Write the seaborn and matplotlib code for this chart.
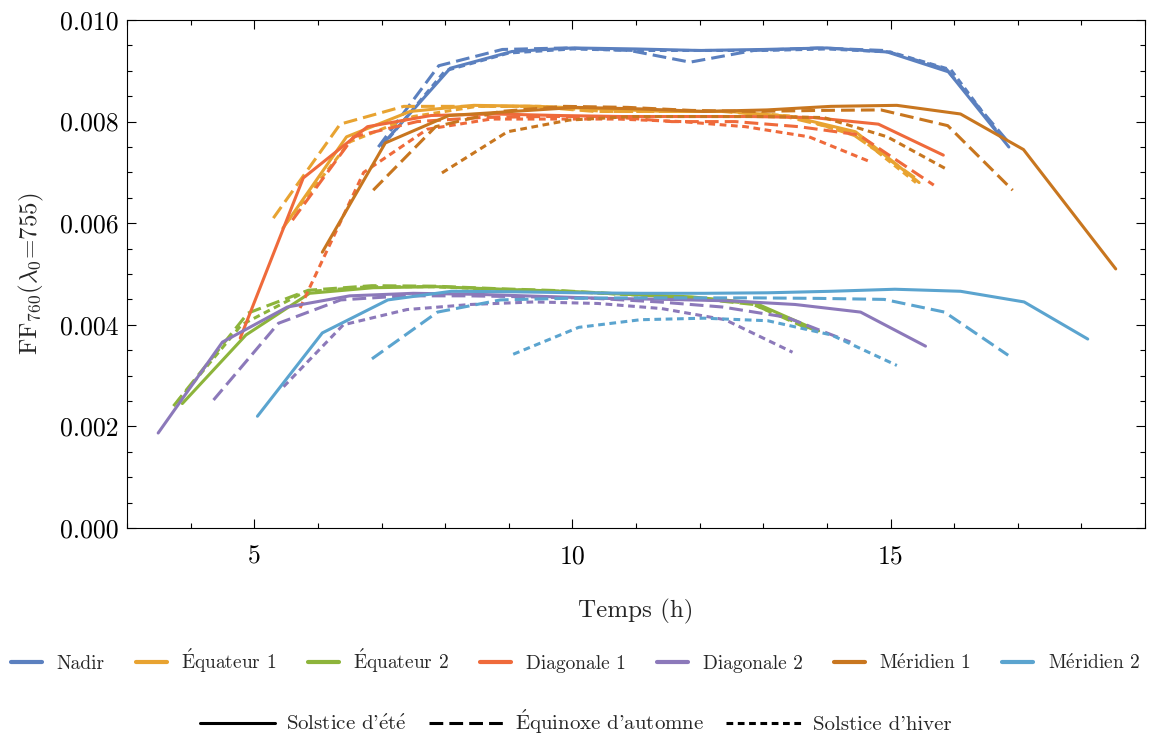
import numpy as np
import pandas as pd
import matplotlib
matplotlib.use("Agg")
import matplotlib.pyplot as plt
from matplotlib.ticker import MultipleLocator, FormatStrFormatter
from matplotlib.lines import Line2D
import seaborn as sns

# ---------------- data ----------------
LOCATIONS = ["Nadir", "Équateur 1", "Équateur 2", "Diagonale 1", "Diagonale 2", "Méridien 1", "Méridien 2"]
SEASONS = ["Solstice d'été", "Équinoxe d'automne", "Solstice d'hiver"]
COLORS = ["#5b80bf", "#e8a331", "#8db43b", "#ef6a3b", "#8c79ba", "#c8761f", "#5ba4cf"]

# Nadir
nadir_ete_t = [7.05, 8.08, 9.05, 10.0, 11.0, 12.0, 13.0, 14.0, 14.95, 15.91, 16.86]
nadir_ete_v = [0.0076, 0.00905, 0.00938, 0.00945, 0.00943, 0.0094, 0.00942, 0.00945, 0.00937, 0.00898, 0.0075]
nadir_aut_t = [6.95, 7.9, 8.9, 9.9, 10.9, 11.85, 12.85, 13.85, 14.9, 15.88, 16.85]
nadir_aut_v = [0.0075, 0.0091, 0.00942, 0.00945, 0.0094, 0.00917, 0.0094, 0.00945, 0.0094, 0.00903, 0.0076]
nadir_hiv_t = [7.0, 8.0, 9.0, 10.0, 11.0, 12.0, 13.0, 14.0, 15.0, 15.95, 16.75]
nadir_hiv_v = [0.0075, 0.0090, 0.00935, 0.00943, 0.0094, 0.0094, 0.0094, 0.00943, 0.00937, 0.00902, 0.00768]

# Équateur 1
equ1_ete_t = [5.45, 6.45, 7.45, 8.45, 9.45, 10.45, 11.45, 12.45, 13.45, 14.45, 15.45]
equ1_ete_v = [0.0059, 0.0077, 0.0082, 0.00832, 0.0083, 0.00825, 0.0082, 0.0082, 0.0081, 0.0078, 0.0068]
equ1_aut_t = [5.3, 6.35, 7.35, 8.35, 9.35, 10.35, 11.35, 12.35, 13.35, 14.35, 15.38]
equ1_aut_v = [0.0061, 0.00795, 0.0083, 0.0083, 0.0083, 0.0082, 0.0082, 0.0082, 0.0081, 0.0078, 0.0069]
equ1_hiv_t = [5.5, 6.5, 7.5, 8.5, 9.5, 10.5, 11.5, 12.5, 13.5, 14.5, 15.4]
equ1_hiv_v = [0.0060, 0.0076, 0.0081, 0.0083, 0.0083, 0.0082, 0.0082, 0.0082, 0.0081, 0.0077, 0.0068]

# Équateur 2
equ2_ete_t = [3.87, 4.87, 5.87, 6.87, 7.87, 8.87, 9.87, 10.87, 11.87, 12.87, 13.87]
equ2_ete_v = [0.00245, 0.0038, 0.00462, 0.00473, 0.00475, 0.0047, 0.00466, 0.0046, 0.00455, 0.00443, 0.00388]
equ2_aut_t = [3.73, 4.9, 5.85, 6.85, 7.85, 8.85, 9.85, 10.85, 11.85, 12.85, 13.75]
equ2_aut_v = [0.0024, 0.00423, 0.00468, 0.00477, 0.00476, 0.00471, 0.00467, 0.0046, 0.00453, 0.0044, 0.0039]
equ2_hiv_t = [3.8, 4.8, 5.8, 6.8, 7.8, 8.8, 9.8, 10.8, 11.8, 12.8, 13.8]
equ2_hiv_v = [0.0025, 0.0040, 0.00465, 0.00475, 0.00475, 0.0047, 0.00466, 0.0046, 0.00454, 0.00442, 0.0039]

# Diagonale 1
dia1_ete_t = [4.78, 5.77, 6.78, 7.78, 8.78, 9.78, 10.78, 11.78, 12.78, 13.78, 14.81, 15.83]
dia1_ete_v = [0.00374, 0.00689, 0.0079, 0.00812, 0.00815, 0.00812, 0.0081, 0.0081, 0.0081, 0.00808, 0.00795, 0.00734]
dia1_aut_t = [5.6, 6.56, 7.56, 8.56, 9.56, 10.56, 11.56, 12.56, 13.56, 14.5, 15.68]
dia1_aut_v = [0.00606, 0.0077, 0.0080, 0.00808, 0.0081, 0.0081, 0.0080, 0.0080, 0.0079, 0.00774, 0.00675]
dia1_hiv_t = [5.72, 6.72, 7.72, 8.72, 9.72, 10.72, 11.72, 12.72, 13.72, 14.7]
dia1_hiv_v = [0.00433, 0.0070, 0.00785, 0.00805, 0.00805, 0.00805, 0.0080, 0.0079, 0.0077, 0.0072]

# Diagonale 2
dia2_ete_t = [3.49, 4.5, 5.52, 6.5, 7.5, 8.5, 9.5, 10.5, 11.5, 12.5, 13.5, 14.53, 15.55]
dia2_ete_v = [0.00187, 0.00366, 0.00435, 0.00457, 0.00462, 0.0046, 0.00456, 0.00452, 0.0045, 0.00447, 0.0044, 0.00425, 0.00358]
dia2_aut_t = [4.36, 5.38, 6.36, 7.36, 8.36, 9.36, 10.36, 11.36, 12.36, 13.36, 14.37]
dia2_aut_v = [0.00252, 0.00403, 0.00449, 0.00457, 0.00457, 0.00455, 0.00452, 0.00445, 0.00435, 0.00415, 0.00366]
dia2_hiv_t = [5.46, 6.4, 7.4, 8.4, 9.4, 10.4, 11.4, 12.4, 13.46]
dia2_hiv_v = [0.00278, 0.0040, 0.0043, 0.0044, 0.00445, 0.00442, 0.00432, 0.0041, 0.00346]

# Méridien 1
mer1_ete_t = [6.07, 7.06, 8.06, 9.06, 10.06, 11.06, 12.06, 13.06, 14.06, 15.1, 16.1, 17.09, 18.54]
mer1_ete_v = [0.00543, 0.00758, 0.00812, 0.0082, 0.00828, 0.00825, 0.0082, 0.00823, 0.0083, 0.00832, 0.00815, 0.00745, 0.0051]
mer1_aut_t = [6.87, 7.85, 8.87, 9.87, 10.87, 11.87, 12.87, 13.87, 14.85, 15.9, 16.92]
mer1_aut_v = [0.00665, 0.0079, 0.0082, 0.0083, 0.00828, 0.00822, 0.0082, 0.00822, 0.00823, 0.00792, 0.00665]
mer1_hiv_t = [7.95, 8.98, 9.95, 10.95, 11.95, 12.95, 13.95, 14.95, 15.9]
mer1_hiv_v = [0.00699, 0.0078, 0.00803, 0.0081, 0.0081, 0.0081, 0.00808, 0.0077, 0.00705]

# Méridien 2
mer2_ete_t = [5.05, 6.07, 7.1, 8.1, 9.07, 10.07, 11.07, 12.07, 13.07, 14.07, 15.07, 16.1, 17.1, 18.1]
mer2_ete_v = [0.0022, 0.00384, 0.00449, 0.00466, 0.00465, 0.00463, 0.00462, 0.00462, 0.00463, 0.00466, 0.0047, 0.00466, 0.00445, 0.00372]
mer2_aut_t = [6.85, 7.88, 8.87, 9.87, 10.87, 11.87, 12.87, 13.87, 14.9, 15.85, 16.85]
mer2_aut_v = [0.00333, 0.00425, 0.00449, 0.00452, 0.00453, 0.00453, 0.00453, 0.00452, 0.0045, 0.00425, 0.0034]
mer2_hiv_t = [9.07, 10.1, 11.07, 12.07, 13.07, 14.07, 15.1]
mer2_hiv_v = [0.00342, 0.00395, 0.0041, 0.00413, 0.00408, 0.0038, 0.0032]

X_TICKS = [5, 10, 15]
X_LABEL = "Temps (h)"
Y_LABEL = r"FF$_{760}$($\lambda_0$=755)"

# Display versions of the labels: accented letters typeset with mathtext (Computer Modern)
LOCATION_LABELS = ["Nadir", r"$\mathrm{\acute{E}}$quateur 1", r"$\mathrm{\acute{E}}$quateur 2",
                   "Diagonale 1", "Diagonale 2", r"M$\mathrm{\acute{e}}$ridien 1", r"M$\mathrm{\acute{e}}$ridien 2"]
SEASON_LABELS = [r"Solstice d'$\mathrm{\acute{e}t\acute{e}}$", r"$\mathrm{\acute{E}}$quinoxe d'automne",
                 "Solstice d'hiver"]

series = {
    ("Nadir", 0): (nadir_ete_t, nadir_ete_v), ("Nadir", 1): (nadir_aut_t, nadir_aut_v), ("Nadir", 2): (nadir_hiv_t, nadir_hiv_v),
    ("Équateur 1", 0): (equ1_ete_t, equ1_ete_v), ("Équateur 1", 1): (equ1_aut_t, equ1_aut_v), ("Équateur 1", 2): (equ1_hiv_t, equ1_hiv_v),
    ("Équateur 2", 0): (equ2_ete_t, equ2_ete_v), ("Équateur 2", 1): (equ2_aut_t, equ2_aut_v), ("Équateur 2", 2): (equ2_hiv_t, equ2_hiv_v),
    ("Diagonale 1", 0): (dia1_ete_t, dia1_ete_v), ("Diagonale 1", 1): (dia1_aut_t, dia1_aut_v), ("Diagonale 1", 2): (dia1_hiv_t, dia1_hiv_v),
    ("Diagonale 2", 0): (dia2_ete_t, dia2_ete_v), ("Diagonale 2", 1): (dia2_aut_t, dia2_aut_v), ("Diagonale 2", 2): (dia2_hiv_t, dia2_hiv_v),
    ("Méridien 1", 0): (mer1_ete_t, mer1_ete_v), ("Méridien 1", 1): (mer1_aut_t, mer1_aut_v), ("Méridien 1", 2): (mer1_hiv_t, mer1_hiv_v),
    ("Méridien 2", 0): (mer2_ete_t, mer2_ete_v), ("Méridien 2", 1): (mer2_aut_t, mer2_aut_v), ("Méridien 2", 2): (mer2_hiv_t, mer2_hiv_v),
}

rows = []
for (loc, si), (ts, vs) in series.items():
    for t, v in zip(ts, vs):
        rows.append({"loc": loc, "season": SEASONS[si], "t": t, "v": v})
df = pd.DataFrame(rows)

# ---------------- style ----------------
sns.set_style("ticks")
plt.rcParams["font.family"] = ["cmr10", "DejaVu Serif"]
plt.rcParams["mathtext.fontset"] = "cm"
plt.rcParams["axes.formatter.use_mathtext"] = True
plt.rcParams["axes.unicode_minus"] = False

palette = dict(zip(LOCATIONS, COLORS))
LW = 2.2
DASH = (4.5, 2.0)
DOT = (2.2, 1.5)
dashes = {SEASONS[0]: "", SEASONS[1]: DASH, SEASONS[2]: DOT}

fig = plt.figure(figsize=(11.51, 7.34), dpi=100)
ax = fig.add_axes([127 / 1151, 1 - 528 / 734, (1145 - 127) / 1151, (528 - 20) / 734])

sns.lineplot(data=df, x="t", y="v", hue="loc", style="season", hue_order=LOCATIONS,
             style_order=SEASONS, palette=palette, dashes=dashes, linewidth=LW,
             estimator=None, errorbar=None, legend=False, ax=ax)

ax.set_xlim(3, 19)
ax.set_ylim(0, 0.010)
ax.set_xticks(X_TICKS)
ax.xaxis.set_minor_locator(MultipleLocator(1))
ax.yaxis.set_major_locator(MultipleLocator(0.002))
ax.yaxis.set_minor_locator(MultipleLocator(0.0005))
ax.yaxis.set_major_formatter(FormatStrFormatter("%.3f"))
ax.xaxis.set_major_formatter(FormatStrFormatter("%d"))
ax.tick_params(which="both", direction="in", top=True, right=True, width=0.8, colors="black")
ax.tick_params(which="major", length=6.5, labelsize=18.5)
ax.tick_params(axis="x", which="major", pad=12)
ax.tick_params(axis="y", which="major", pad=6)
ax.tick_params(which="minor", length=3.8)
for s in ax.spines.values():
    s.set_linewidth(0.8)
    s.set_color("black")

ax.set_xlabel(X_LABEL, fontsize=18, labelpad=22)
ax.set_ylabel(Y_LABEL, fontsize=18)
ax.yaxis.set_label_coords(-0.08, 0.5)

# legends
loc_handles = [Line2D([], [], color=c, lw=3.0) for c in COLORS]
leg1 = fig.legend(loc_handles, LOCATION_LABELS, loc="center", bbox_to_anchor=(0.5, 1 - 661 / 734),
                  ncol=7, frameon=False, fontsize=14, handlelength=1.6, handletextpad=0.75,
                  columnspacing=1.6, borderpad=0.2)
season_handles = [Line2D([], [], color="black", lw=LW, linestyle="-"),
                  Line2D([], [], color="black", lw=LW, linestyle=(0, DASH)),
                  Line2D([], [], color="black", lw=LW, linestyle=(0, DOT))]
leg2 = fig.legend(season_handles, SEASON_LABELS, loc="center", bbox_to_anchor=(0.5, 1 - 722 / 734),
                  ncol=3, frameon=False, fontsize=15, handlelength=3.6, handletextpad=0.55,
                  columnspacing=1.05, borderpad=0.2)

fig.savefig("out.png", dpi=100)
